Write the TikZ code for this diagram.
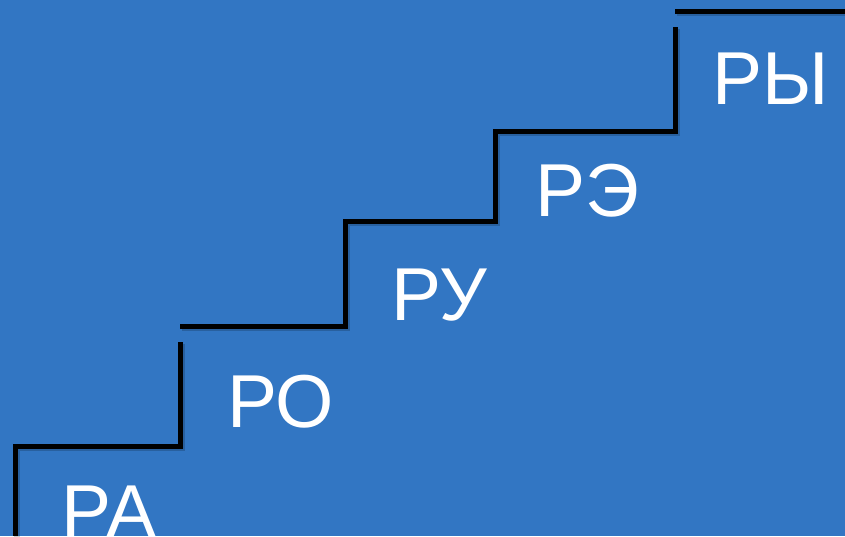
\documentclass[tikz,border=0pt]{standalone}
\usepackage{fontspec}
\setmainfont{Liberation Sans}
\definecolor{stepblue}{RGB}{50,118,195}
\tikzset{
  stair/.style={line width=5pt, black},
  stairshadow/.style={line width=6pt, black, opacity=0.18},
  syllable/.style={anchor=base west, inner sep=0pt, text=white, font=\fontsize{75}{75}\selectfont}
}
\begin{document}
\begin{tikzpicture}[x=1pt, y=-1pt]
        % Фон
        \fill[stepblue] (0,0) rectangle (845,536);
        \useasboundingbox (0,0) rectangle (845,536);

        % Тень ступенек
        \begin{scope}[shift={(1.5,2)}]
        \draw[stairshadow] (15,536) -- (15,446) -- (180,446) -- (180,342);
        \draw[stairshadow] (180,326) -- (345,326) -- (345,221) -- (495,221) -- (495,131) -- (675,131) -- (675,27);
        \draw[stairshadow] (675,11) -- (845,11);
        \end{scope}

        % Ступеньки
        \draw[stair] (15,536) -- (15,446) -- (180,446) -- (180,342);
        \draw[stair] (180,326) -- (345,326) -- (345,221) -- (495,221) -- (495,131) -- (675,131) -- (675,27);
        \draw[stair] (675,11) -- (845,11);

        % Слоги
        \node[syllable] (ra) at (61,537) {РА};
        \node[syllable] (ro) at (227,427) {РО};
        \node[syllable] (ru) at (391,320) {РУ};
        \node[syllable] (re) at (535,216) {РЭ};
        \node[syllable] (ry) at (712,104) {РЫ};
    \end{tikzpicture}
\end{document}
